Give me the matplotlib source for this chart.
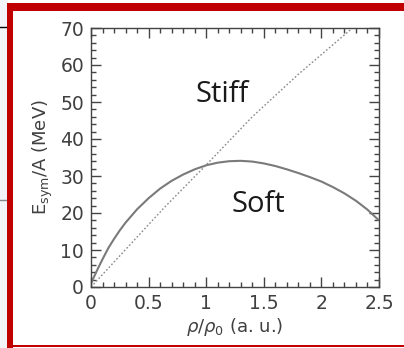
import matplotlib.pyplot as plt
from matplotlib.patches import Rectangle
from matplotlib.lines import Line2D
from matplotlib.ticker import MultipleLocator

# symmetry energy per nucleon vs reduced density
rho_soft = [0, 0.03, 0.06, 0.1, 0.15, 0.2, 0.25, 0.3, 0.4, 0.5, 0.6, 0.7,
            0.8, 0.9, 1.0, 1.1, 1.2, 1.3, 1.4, 1.5, 1.6, 1.7, 1.8, 1.9,
            2.0, 2.1, 2.2, 2.3, 2.4, 2.5]
e_soft = [1, 3, 5, 7.5, 10.5, 13, 15.3, 17.4, 21, 24, 26.6, 28.7,
          30.4, 31.8, 32.9, 33.6, 34, 34.1, 33.9, 33.4, 32.7, 31.8, 30.8, 29.7,
          28.5, 27, 25.3, 23.3, 20.9, 18]
rho_stiff = [0, 0.64, 1.0, 1.4, 1.8, 2.27]
e_stiff = [0, 21.6, 33, 46, 57.5, 70]

xticks = [0, 0.5, 1, 1.5, 2, 2.5]
xticklabels = ['0', '0.5', '1', '1.5', '2', '2.5']
yticks = [0, 10, 20, 30, 40, 50, 60, 70]

W, H = 404, 348
fig = plt.figure(figsize=(W / 100, H / 100), dpi=100)
fig.patch.set_facecolor('white')

# slide bits around the frame
fig.add_artist(Rectangle((0, 0), 7 / W, 1, transform=fig.transFigure,
                         facecolor='#f2f4f9', edgecolor='none', zorder=0))
fig.add_artist(Line2D([0, 7 / W], [1 - 27 / H] * 2, transform=fig.transFigure,
                      color='black', lw=1))
fig.add_artist(Line2D([0, 7 / W], [1 - 200 / H] * 2, transform=fig.transFigure,
                      color='#888888', lw=1))
# red frame
red = '#c00000'
fig.add_artist(Rectangle((7 / W, 0), 6 / W, 1 - 3 / H, transform=fig.transFigure,
                         facecolor=red, edgecolor='none', zorder=5))
fig.add_artist(Rectangle((7 / W, 1 - 11 / H), 1, 8 / H, transform=fig.transFigure,
                         facecolor=red, edgecolor='none', zorder=5))
fig.add_artist(Rectangle((7 / W, 1 / H), 1, 2 / H, transform=fig.transFigure,
                         facecolor=red, edgecolor='none', zorder=5))

ax = fig.add_axes([91 / W, 61 / H, 288 / W, 259 / H])
ax.plot(rho_soft, e_soft, color='#7a7a7a', lw=1.5, solid_capstyle='butt')
ax.plot(rho_stiff, e_stiff, color='#8a8a8a', lw=1.0, linestyle=(0, (1.2, 1.5)))

ax.set_xlim(0, 2.5)
ax.set_ylim(0, 70)
ax.set_xticks(xticks)
ax.set_xticklabels(xticklabels)
ax.set_yticks(yticks)
ax.xaxis.set_minor_locator(MultipleLocator(0.1))
ax.yaxis.set_minor_locator(MultipleLocator(2))
ax.tick_params(which='both', direction='in', top=True, right=True,
               color='#444444', width=1)
ax.tick_params(which='major', length=7, labelsize=13.5, labelcolor='#404040', pad=5)
ax.tick_params(which='minor', length=3.5)
for s in ax.spines.values():
    s.set_color('#444444')
    s.set_linewidth(1)

ax.set_xlabel(r'$\rho/\rho_0$ (a. u.)', fontsize=13, color='#404040', labelpad=2)
ax.set_ylabel(r'E$_{\rm sym}$/A (MeV)', fontsize=13, color='#404040', labelpad=4)

ax.text(1.14, 52, 'Stiff', fontsize=21, family='Open Sans', color='#1a1a1a',
        ha='center', va='center')
ax.text(1.45, 22.2, 'Soft', fontsize=21, family='Open Sans', color='#1a1a1a',
        ha='center', va='center')

fig.savefig('out.png', dpi=100)
